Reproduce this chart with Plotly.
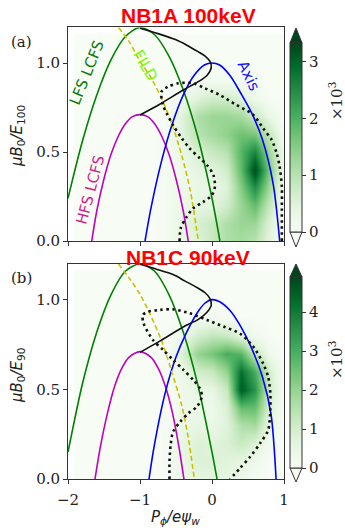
import plotly.graph_objects as go

W, H = 345, 528

# ---------------- data ----------------
hm_x = [-1.0, -0.8, -0.6, -0.4, -0.2, 0.0, 0.2, 0.4, 0.6, 0.8, 1.0]
hm_y = [0.0, 0.1, 0.2, 0.3, 0.4, 0.5, 0.6, 0.7, 0.8, 0.9, 1.0, 1.1]

# NB1A 100 keV distribution (x10^3)
z_a = [
    [0, 0, 0.1, 0.3, 0.5, 0.8, 1.1, 1.2, 1.0, 0.4, 0.0],
    [0, 0, 0.1, 0.4, 0.6, 0.8, 1.1, 1.3, 1.3, 0.5, 0.0],
    [0, 0, 0.1, 0.3, 0.4, 0.4, 0.7, 1.3, 1.8, 0.8, 0.0],
    [0, 0, 0.1, 0.2, 0.3, 0.3, 0.5, 1.5, 2.5, 1.2, 0.1],
    [0, 0, 0.1, 0.2, 0.4, 0.4, 0.7, 1.8, 3.3, 1.5, 0.2],
    [0, 0, 0.1, 0.3, 0.6, 0.8, 1.0, 1.9, 2.6, 1.2, 0.2],
    [0, 0, 0.1, 0.5, 1.0, 1.2, 1.4, 1.7, 1.6, 0.8, 0.1],
    [0, 0, 0.1, 0.5, 1.1, 1.3, 1.3, 1.2, 0.8, 0.3, 0.0],
    [0, 0, 0.0, 0.2, 0.5, 0.7, 0.7, 0.5, 0.2, 0.0, 0.0],
    [0, 0, 0.0, 0.0, 0.1, 0.1, 0.1, 0.1, 0.0, 0.0, 0.0],
    [0, 0, 0, 0, 0, 0, 0, 0, 0, 0, 0],
    [0, 0, 0, 0, 0, 0, 0, 0, 0, 0, 0],
]
# NB1C 90 keV distribution (x10^3)
z_b = [
    [0, 0, 0.0, 0.3, 0.6, 0.6, 0.5, 0.3, 0.1, 0.0, 0.0],
    [0, 0, 0.1, 0.5, 0.8, 0.8, 0.7, 0.6, 0.3, 0.0, 0.0],
    [0, 0, 0.1, 0.5, 0.8, 0.7, 0.8, 1.2, 0.8, 0.2, 0.0],
    [0, 0, 0.1, 0.4, 0.5, 0.4, 0.7, 1.6, 1.8, 0.4, 0.0],
    [0, 0, 0.0, 0.3, 0.4, 0.3, 0.8, 2.6, 2.6, 0.8, 0.0],
    [0, 0, 0.0, 0.3, 0.5, 0.5, 1.2, 4.6, 3.5, 1.0, 0.0],
    [0, 0, 0.1, 0.4, 1.0, 1.2, 2.0, 4.2, 3.0, 0.9, 0.0],
    [0, 0, 0.1, 0.9, 2.0, 2.4, 3.0, 2.8, 1.3, 0.3, 0.0],
    [0, 0, 0.0, 0.3, 1.0, 1.3, 1.2, 0.6, 0.2, 0.0, 0.0],
    [0, 0, 0.0, 0.0, 0.1, 0.2, 0.1, 0.0, 0.0, 0.0, 0.0],
    [0, 0, 0, 0, 0, 0, 0, 0, 0, 0, 0],
    [0, 0, 0, 0, 0, 0, 0, 0, 0, 0, 0],
]
zmax_a, zmax_b = 3.33, 4.9
cb_ticks_a = [0, 1, 2, 3]
cb_ticks_b = [0, 1, 2, 3, 4]

# LFS LCFS (green)
lfs_x_a = [-2.0, -1.8, -1.6, -1.4, -1.2, -1.0, -0.8, -0.6, -0.4, -0.2, 0.0, 0.11]
lfs_y_a = [0.24, 0.56, 0.82, 1.02, 1.15, 1.2, 1.16, 1.04, 0.85, 0.59, 0.24, 0.0]
lfs_x_b = [-2.0, -1.8, -1.6, -1.4, -1.2, -1.0, -0.8, -0.6, -0.4, -0.2, 0.0, 0.07]
lfs_y_b = [0.15, 0.53, 0.82, 1.03, 1.16, 1.2, 1.16, 1.03, 0.82, 0.53, 0.15, 0.0]
# HFS LCFS (magenta)
hfs_x_a = [-1.67, -1.6, -1.5, -1.4, -1.3, -1.2, -1.1, -1.0, -0.9, -0.8, -0.7, -0.6, -0.5, -0.4, -0.33]
hfs_y_a = [0.0, 0.17, 0.35, 0.49, 0.59, 0.66, 0.70, 0.71, 0.70, 0.66, 0.59, 0.49, 0.35, 0.17, 0.0]
hfs_x_b = [-1.625, -1.55, -1.45, -1.35, -1.25, -1.15, -1.0, -0.85, -0.75, -0.65, -0.55, -0.46, -0.39]
hfs_y_b = [0.0, 0.18, 0.37, 0.52, 0.62, 0.68, 0.71, 0.68, 0.62, 0.52, 0.37, 0.18, 0.0]
# Magnetic axis (blue)
axis_x_a = [-0.93, -0.85, -0.7, -0.55, -0.4, -0.25, -0.1, 0.0, 0.1, 0.25, 0.4, 0.55, 0.7, 0.85, 0.94]
axis_y_a = [0.0, 0.18, 0.45, 0.66, 0.82, 0.93, 0.99, 1.0, 0.99, 0.93, 0.83, 0.72, 0.57, 0.32, 0.0]
axis_x_b = [-0.875, -0.8, -0.65, -0.5, -0.35, -0.2, -0.1, 0.0, 0.1, 0.25, 0.4, 0.55, 0.7, 0.82, 0.89]
axis_y_b = [0.0, 0.19, 0.48, 0.68, 0.82, 0.93, 0.98, 1.0, 0.99, 0.94, 0.85, 0.73, 0.57, 0.36, 0.0]
# FILD (yellow dashed)
fild_x_a = [-1.3, -1.15, -1.0, -0.85, -0.7, -0.55, -0.42, -0.3, -0.19]
fild_y_a = [1.2, 1.12, 1.01, 0.92, 0.80, 0.65, 0.48, 0.28, 0.0]
fild_x_b = [-1.3, -1.15, -1.0, -0.85, -0.7, -0.56, -0.42, -0.33, -0.245]
fild_y_b = [1.2, 1.12, 1.03, 0.91, 0.77, 0.60, 0.41, 0.23, 0.0]
# trapped/passing boundary (black)
tp_x_a = [-1.0, -0.72, -0.4, -0.19, -0.07, -0.01, -0.03, -0.1, -0.2, -0.35, -0.5, -0.75, -1.0]
tp_y_a = [0.708, 0.77, 0.848, 0.895, 0.93, 0.975, 1.01, 1.04, 1.065, 1.10, 1.13, 1.165, 1.195]
tp_x_b = [-1.0, -0.72, -0.4, -0.19, -0.07, -0.01, -0.03, -0.1, -0.22, -0.38, -0.54, -0.77, -1.0]
tp_y_b = [0.706, 0.77, 0.848, 0.89, 0.93, 0.97, 1.007, 1.04, 1.07, 1.105, 1.14, 1.17, 1.197]
# dotted boundary
dot_x_a = [-0.45, -0.435, -0.35, -0.26, -0.12, 0.0, 0.04, 0.02, -0.07, -0.17, -0.31, -0.42, -0.54,
           -0.63, -0.685, -0.70, -0.61, -0.47, -0.26, -0.10, 0.11, 0.34, 0.57, 0.71, 0.83, 0.90,
           0.94, 0.97, 0.97, 0.97]
dot_y_a = [0.0, 0.071, 0.137, 0.184, 0.22, 0.258, 0.305, 0.37, 0.427, 0.465, 0.52, 0.577, 0.65,
           0.717, 0.77, 0.84, 0.867, 0.886, 0.886, 0.858, 0.82, 0.764, 0.71, 0.633, 0.567, 0.49,
           0.417, 0.305, 0.174, 0.0]
dot_x_b = [-0.59, -0.59, -0.574, -0.54, -0.44, -0.33, -0.21, -0.14, -0.17, -0.26, -0.40, -0.54,
           -0.68, -0.82, -0.95, -0.96, -0.885, -0.72, -0.54, -0.31, -0.07, 0.16, 0.39, 0.57, 0.71,
           0.78, 0.81, 0.81, 0.78, 0.67, 0.53, 0.39, 0.25]
dot_y_b = [0.0, 0.097, 0.19, 0.264, 0.32, 0.366, 0.403, 0.46, 0.506, 0.552, 0.61, 0.664, 0.72,
           0.775, 0.868, 0.915, 0.933, 0.943, 0.946, 0.924, 0.887, 0.85, 0.81, 0.74, 0.645, 0.57,
           0.478, 0.385, 0.273, 0.2, 0.124, 0.06, 0.0]

titles = ["NB1A 100keV", "NB1C 90keV"]
ylabels = ["<i>μB</i><sub>0</sub><i>/E</i><sub>100</sub>", "<i>μB</i><sub>0</sub><i>/E</i><sub>90</sub>"]
xlabel = "<i>P</i><sub><i>ϕ</i></sub><i>/eψ</i><sub><i>w</i></sub>"
xticks = [-2, -1, 0, 1]
xticktext = ["−2", "−1", "0", "1"]
yticks = [0.0, 0.5, 1.0]
yticktext = ["0.0", "0.5", "1.0"]

# ---------------- style ----------------
greens = [[0, '#f7fcf5'], [0.125, '#e5f5e0'], [0.25, '#c7e9c0'], [0.375, '#a1d99b'],
          [0.5, '#74c476'], [0.625, '#41ab5d'], [0.75, '#238b45'], [0.875, '#006d2c'],
          [1, '#00441b']]
TF = 'DejaVu Serif'
AX = '#333333'

def px2fx(px):
    return px / W

def py2fy(py):
    return 1 - py / H

xdom = [px2fx(68), px2fx(284)]
ydom_a = [py2fy(241), py2fy(27.4)]
ydom_b = [py2fy(479), py2fy(263.8)]

fig = go.Figure()

panels = [
    dict(xa='x', ya='y', z=z_a, zmax=zmax_a, cbt=cb_ticks_a, cb_bot=232, cb_top=43,
         lfs=(lfs_x_a, lfs_y_a), hfs=(hfs_x_a, hfs_y_a), ax=(axis_x_a, axis_y_a),
         fild=(fild_x_a, fild_y_a), tp=(tp_x_a, tp_y_a), dot=(dot_x_a, dot_y_a)),
    dict(xa='x2', ya='y2', z=z_b, zmax=zmax_b, cbt=cb_ticks_b, cb_bot=468, cb_top=277,
         lfs=(lfs_x_b, lfs_y_b), hfs=(hfs_x_b, hfs_y_b), ax=(axis_x_b, axis_y_b),
         fild=(fild_x_b, fild_y_b), tp=(tp_x_b, tp_y_b), dot=(dot_x_b, dot_y_b)),
]

for i, p in enumerate(panels):
    fig.add_trace(go.Heatmap(
        x=hm_x, y=hm_y, z=p['z'], xaxis=p['xa'], yaxis=p['ya'],
        colorscale=greens, zmin=0, zmax=p['zmax'], zsmooth='best',
        colorbar=dict(x=px2fx(290), xanchor='left', xref='paper',
                      y=py2fy(p['cb_bot']), yanchor='bottom', yref='paper',
                      len=p['cb_bot'] - p['cb_top'], lenmode='pixels',
                      thickness=12, thicknessmode='pixels', xpad=0, ypad=0,
                      outlinewidth=1, outlinecolor=AX,
                      ticks='outside', ticklen=4, tickwidth=1, tickcolor=AX,
                      tickvals=p['cbt'], tickfont=dict(family=TF, size=15, color='#222')),
        hoverinfo='skip'))
    lines = [
        (p['lfs'], '#008000', 'solid', 1.6),
        (p['hfs'], '#c000c0', 'solid', 1.6),
        (p['ax'], '#0000ff', 'solid', 1.6),
        (p['fild'], '#c8c000', '5px,3px', 1.6),
        (p['tp'], '#111111', 'solid', 1.6),
        (p['dot'], '#111111', '2.5px,3.5px', 2.6),
    ]
    for (xs, ys), col, dash, wd in lines:
        fig.add_trace(go.Scatter(x=xs, y=ys, mode='lines', xaxis=p['xa'], yaxis=p['ya'],
                                 line=dict(color=col, width=wd, dash=dash, shape='spline',
                                           smoothing=0.8),
                                 hoverinfo='skip', showlegend=False))

axis_common = dict(showgrid=False, zeroline=False, showline=True, linecolor=AX, linewidth=1,
                   mirror=True, ticks='outside', ticklen=4, tickwidth=1, tickcolor=AX,
                   automargin=False,
                   tickfont=dict(family=TF, size=15, color='#222'))

fig.update_layout(
    width=W, height=H, margin=dict(l=0, r=0, t=0, b=0, pad=0, autoexpand=False),
    paper_bgcolor='white', plot_bgcolor='#f7fcf5', showlegend=False,
    xaxis=dict(domain=xdom, range=[-2, 1], anchor='y', tickvals=xticks, showticklabels=False,
               **axis_common),
    yaxis=dict(domain=ydom_a, range=[0, 1.2], anchor='x', tickvals=yticks, ticktext=yticktext,
               **axis_common),
    xaxis2=dict(domain=xdom, range=[-2, 1], anchor='y2', tickvals=xticks, ticktext=xticktext,
                ticklabelstandoff=3, **axis_common),
    yaxis2=dict(domain=ydom_b, range=[0, 1.2], anchor='x2', tickvals=yticks, ticktext=yticktext,
                **axis_common),
)

# white margins around the image inside the axes, and colorbar extension triangles
shapes = []
for xa, ya in [('x', 'y'), ('x2', 'y2')]:
    shapes.append(dict(type='rect', xref=xa, yref=ya, x0=-2, x1=-1.92, y0=0, y1=1.2,
                       fillcolor='white', line=dict(width=0), layer='below'))
    shapes.append(dict(type='rect', xref=xa, yref=ya, x0=-2, x1=1, y0=1.166, y1=1.2,
                       fillcolor='white', line=dict(width=0), layer='below'))

def tri(y_base, y_tip, fill):
    xl, xr, xm = px2fx(290), px2fx(302), px2fx(296)
    return dict(type='path', xref='paper', yref='paper',
                path=f'M {xl},{py2fy(y_base)} L {xr},{py2fy(y_base)} L {xm},{py2fy(y_tip)} Z',
                fillcolor=fill, line=dict(color=AX, width=1), layer='above')

shapes += [tri(43, 28, '#00441b'), tri(232, 247, '#f7fcf5'),
           tri(277, 264, '#00441b'), tri(468, 482, '#f7fcf5')]
fig.update_layout(shapes=shapes)

def pann(text, px, py, size=15, family=TF, color='#222', angle=0):
    return dict(text=text, x=px2fx(px), y=py2fy(py), xref='paper', yref='paper',
                xanchor='center', yanchor='middle', showarrow=False, textangle=angle,
                font=dict(family=family, size=size, color=color))

def dann(text, x, y, angle, color):
    return dict(text=text, x=x, y=y, xref='x', yref='y', xanchor='center', yanchor='middle',
                showarrow=False, textangle=angle,
                font=dict(family='DejaVu Sans', size=15, color=color))

ann = [
    pann(f'<b>{titles[0]}</b>', 189, 15.5, 21, 'Liberation Sans', '#ff0000'),
    pann(f'<b>{titles[1]}</b>', 187.5, 257, 21, 'Liberation Sans', '#ff0000'),
    pann('(a)', 21.5, 42),
    pann('(b)', 21.5, 278),
    pann(ylabels[0], 17, 136, 15, 'DejaVu Sans', angle=-90),
    pann(ylabels[1], 17, 376, 15, 'DejaVu Sans', angle=-90),
    pann(xlabel, 175, 517, 15, 'DejaVu Sans'),
    pann('×10<sup>3</sup>', 336, 101, angle=-90),
    pann('×10<sup>3</sup>', 336, 360, angle=-90),
    dann('LFS LCFS', -1.73, 0.947, -68, '#0a7a0a'),
    dann('FILD', -0.92, 0.985, 60, '#7cfc00'),
    dann('Axis', 0.5, 0.93, 64, '#1414ff'),
    dann('HFS LCFS', -1.69, 0.287, -75, '#d81b8c'),
]
fig.update_layout(annotations=ann)

fig.write_html('out.html')
